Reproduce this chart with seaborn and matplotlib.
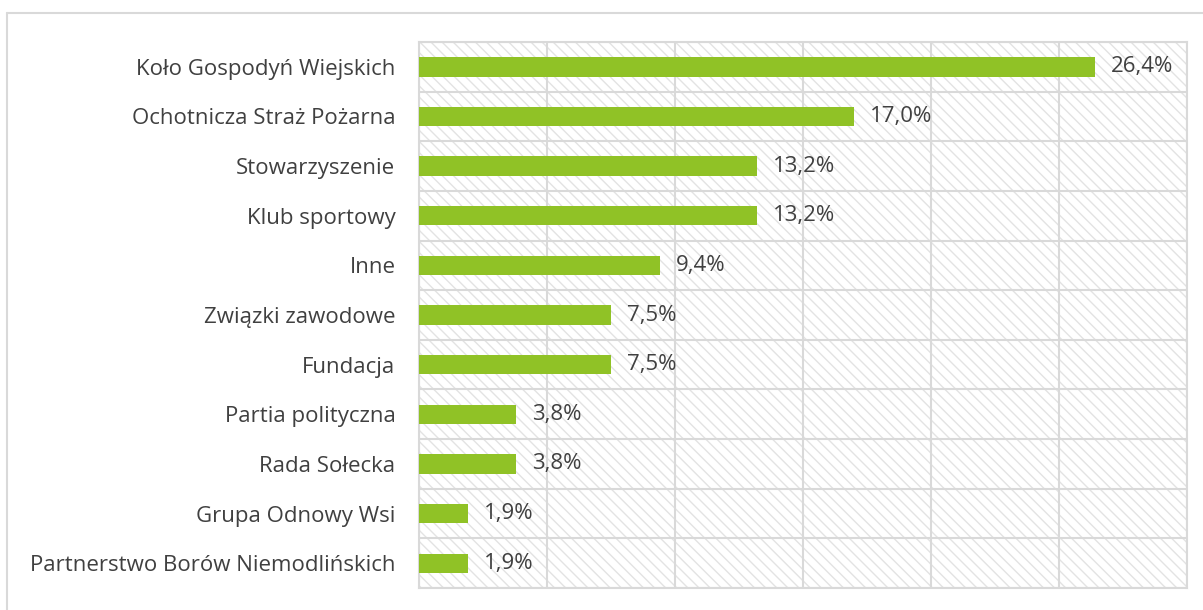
import matplotlib
matplotlib.use("Agg")
import matplotlib.pyplot as plt
import seaborn as sns
import numpy as np
import pandas as pd
from matplotlib.lines import Line2D
from matplotlib.patches import Rectangle

categories = ["Koło Gospodyń Wiejskich", "Ochotnicza Straż Pożarna", "Stowarzyszenie",
              "Klub sportowy", "Inne", "Związki zawodowe", "Fundacja",
              "Partia polityczna", "Rada Sołecka", "Grupa Odnowy Wsi",
              "Partnerstwo Borów Niemodlińskich"]
values = [26.4, 17.0, 13.2, 13.2, 9.4, 7.5, 7.5, 3.8, 3.8, 1.9, 1.9]
labels = ["26,4%", "17,0%", "13,2%", "13,2%", "9,4%", "7,5%", "7,5%",
          "3,8%", "3,8%", "1,9%", "1,9%"]

sns.set_style("white")
plt.rcParams['font.family'] = ['Open Sans', 'DejaVu Sans']
plt.rcParams['hatch.linewidth'] = 1.0
text_col = "#404040"
grid_col = "#d9d9d9"
bar_col = "#90c226"

df = pd.DataFrame({"cat": categories, "val": values})

fig = plt.figure(figsize=(12.03, 6.10), dpi=100)
ax = fig.add_axes([0.3483, 0.036, 0.6384, 0.8951])

# hatched plot background
bg = Rectangle((0, 0), 1, 1, transform=ax.transAxes, facecolor="white",
               edgecolor="#e3e3e3", hatch="\\\\\\", linewidth=0, zorder=0)
ax.add_patch(bg)

sns.barplot(data=df, x="val", y="cat", color=bar_col, width=0.39,
            saturation=1, linewidth=0, ax=ax, zorder=3)

ax.set_xlim(0, 30)
ax.set_ylim(len(categories) - 0.5, -0.5)
ax.set_xticks(np.arange(0, 31, 5))
ax.set_xticklabels([])
ax.tick_params(axis="x", length=0)
ax.grid(axis="x", color=grid_col, linewidth=1.5, zorder=1)

ax.set_yticks(np.arange(-0.5, len(categories), 1), minor=True)
ax.grid(axis="y", which="minor", color=grid_col, linewidth=1.5, zorder=1)
ax.tick_params(axis="y", which="minor", length=7, color=grid_col, width=1.5)
ax.tick_params(axis="y", which="major", length=0, labelsize=16,
               labelcolor=text_col, pad=17)
ax.set_axisbelow(True)

for s in ax.spines.values():
    s.set_color(grid_col)
    s.set_linewidth(1.5)

for i, (v, lab) in enumerate(zip(values, labels)):
    ax.text(v + 0.62, i, lab, va="center", ha="left", fontsize=16, color=text_col, zorder=4)

ax.set_xlabel("")
ax.set_ylabel("")

# outer chart border (top and left visible)
fig.add_artist(Line2D([7 / 1203, 1.0], [1 - 13 / 610, 1 - 13 / 610],
                      transform=fig.transFigure, color=grid_col, linewidth=1.5))
fig.add_artist(Line2D([7 / 1203, 7 / 1203], [0.0, 1 - 13 / 610],
                      transform=fig.transFigure, color=grid_col, linewidth=1.5))

fig.savefig("out.png", dpi=100)
